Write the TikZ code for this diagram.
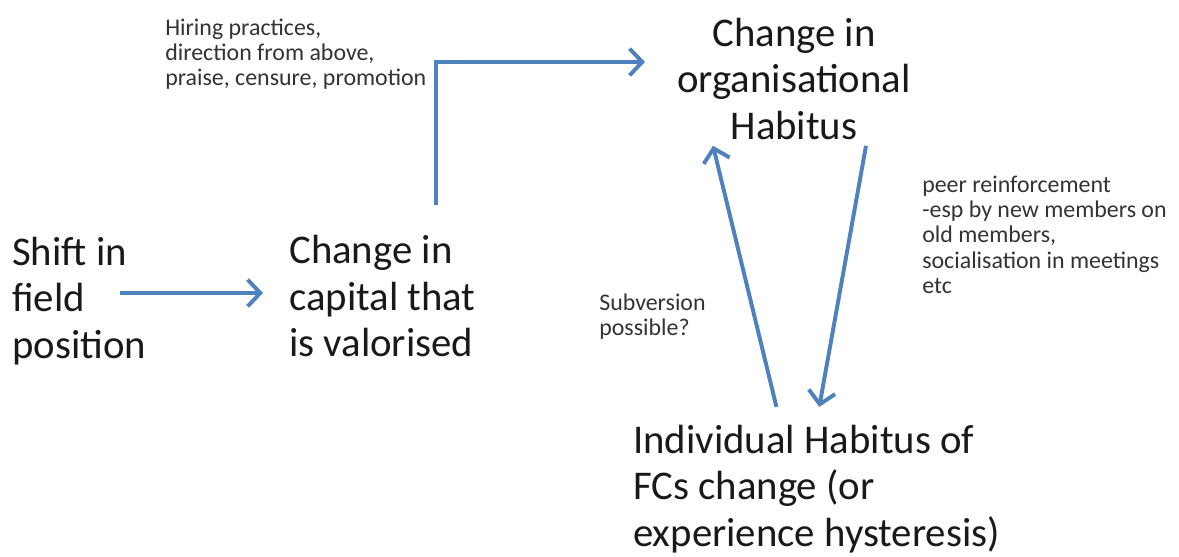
\documentclass[tikz,border=0pt]{standalone}
\usepackage{fontspec}
\setmainfont{Carlito}
\usetikzlibrary{arrows.meta}

\definecolor{flowblue}{RGB}{79,129,189}

\begin{document}
\begin{tikzpicture}[>={Straight Barb[length=9pt, width=19pt]},
    flow/.style={->, line width=2.8pt, flowblue},
    bigtext/.style={inner sep=0pt, text=black!90, font=\fontsize{29}{33}\selectfont},
    smalltext/.style={inner sep=0pt, text=black!80, font=\fontsize{17}{17.9}\selectfont, align=left}]
    % Khung hình
    \useasboundingbox (0, 0) rectangle (29.475, 13.9);

    % Các khối chữ lớn
    \node[bigtext, align=left, anchor=west] (shift) at (0.3, 6.375) {Shift in\\field\\position};
    \node[bigtext, align=left, anchor=west] (capital) at (7.225, 6.5) {Change in\\capital that\\is valorised};
    \node[bigtext, align=center] (org) at (19.85, 11.93) {Change in\\organisational\\Habitus};
    \node[bigtext, align=left, anchor=west] (indiv) at (15.825, 1.675) {Individual Habitus of\\FCs change (or\\experience hysteresis)};

    % Các chú thích nhỏ
    \node[smalltext, anchor=west] (hire) at (4.125, 12.55) {Hiring practices,\\direction from above,\\praise, censure, promotion};
    \node[smalltext, anchor=west] (peer) at (23.05, 8.03) {peer reinforcement\\-esp by new members on\\old members,\\socialisation in meetings\\etc};
    \node[smalltext, anchor=west] (sub) at (14.975, 5.98) {Subversion\\possible?};

    % Điểm gấp của mũi tên
    \coordinate (corner) at (10.9, 12.35);

    % Các mũi tên
    \draw[flow, shorten >=0.65cm] ([xshift=-0.67cm, yshift=0.2cm]shift.east) coordinate (s) -- (s -| capital.west);
    \draw[flow, shorten <=0.75cm, shorten >=0.8cm] (capital.north -| corner) -- (corner) -- (org.west |- corner);
    \draw[flow] ([xshift=1.8cm, yshift=-0.15cm]org.south) -- ([xshift=0.07cm, yshift=0.45cm]indiv.north);
    \draw[flow] ([xshift=-1.0cm, yshift=0.45cm]indiv.north) -- ([xshift=-2.025cm, yshift=-0.15cm]org.south);
\end{tikzpicture}
\end{document}
